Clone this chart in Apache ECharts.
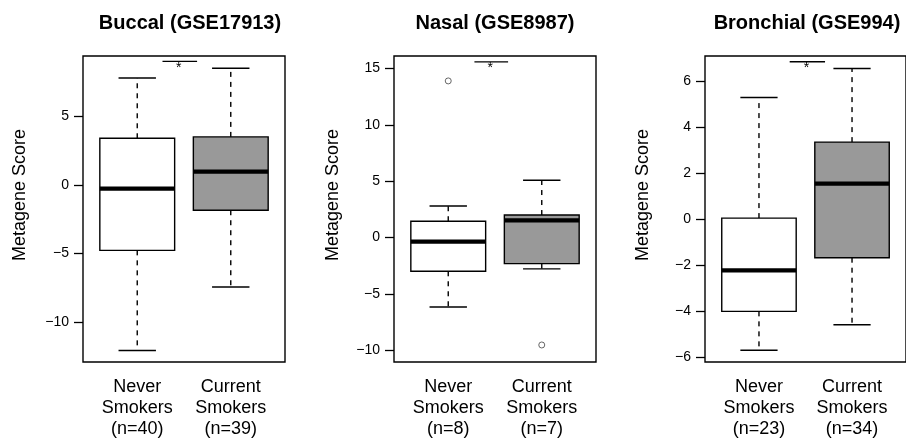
<!DOCTYPE html>
<html>
<head>
<meta charset="utf-8">
<script src="https://cdn.jsdelivr.net/npm/echarts@6/dist/echarts.min.js"></script>
<style>
  html, body { margin: 0; padding: 0; background: #fff; }
  #chart { width: 906px; height: 442px; }
</style>
</head>
<body>
<div id="chart"></div>
<script>
// ---------------- data ----------------
const panelTitles = ['Buccal (GSE17913)', 'Nasal (GSE8987)', 'Bronchial (GSE994)'];
const yAxisTitle = 'Metagene Score';
const groupNames = ['Never\nSmokers', 'Current\nSmokers'];
const sampleSizes = [[40, 39], [8, 7], [23, 34]];
// box stats per group: [lower whisker, Q1, median, Q3, upper whisker]
const buccalStats = [[-12.05, -4.76, -0.27, 3.40, 7.79], [-7.43, -1.84, 0.97, 3.50, 8.50]];
const nasalStats = [[-6.16, -2.99, -0.36, 1.45, 2.80], [-2.78, -2.31, 1.53, 2.00, 5.08]];
const bronchialStats = [[-5.70, -4.01, -2.23, 0.04, 5.28], [-4.59, -1.68, 1.54, 3.34, 6.54]];
const buccalOutliers = [];
const nasalOutliers = [[1, 13.9], [2, -9.53]];
const bronchialOutliers = [];
// y axis ticks and limits
const yTicks = [[-10, -5, 0, 5], [-10, -5, 0, 5, 10, 15], [-6, -4, -2, 0, 2, 4, 6]];
const yLimits = [[-12.89, 9.39], [-11.04, 16.11], [-6.21, 7.08]];
// significance bars: [x start, x end, y]
const signifBars = [[1.27, 1.64, 9.0], [1.28, 1.64, 15.58], [1.33, 1.71, 6.83]];
const xLimits = [0.42, 2.58];
const xTicks = [1, 2];

// ---------------- layout / style ----------------
const allStats = [buccalStats, nasalStats, bronchialStats];
const allOutliers = [buccalOutliers, nasalOutliers, bronchialOutliers];
const gridLefts = [83, 394, 705];
const titleCenters = [190, 495, 807];
const yTitleCenters = [20.5, 333, 643];
const FONT = '"Liberation Sans", Arial, Helvetica, sans-serif';
const fills = ['#ffffff', '#999999'];

function minusFmt(v) { return v < 0 ? '\u2212' + Math.abs(v) : String(v); }

function renderBox(params, api) {
  const x = api.value(0);
  const lo = api.value(1), q1 = api.value(2), med = api.value(3), q3 = api.value(4), hi = api.value(5);
  const hw = 0.4, cw = 0.2;
  const c = (a, b) => api.coord([a, b]);
  const pLoL = c(x - cw, lo), pLoR = c(x + cw, lo);
  const pHiL = c(x - cw, hi), pHiR = c(x + cw, hi);
  const pQ1 = c(x, q1), pQ3 = c(x, q3), pLo = c(x, lo), pHi = c(x, hi);
  const bl = c(x - hw, q3), br = c(x + hw, q1);
  const pMedL = c(x - hw, med), pMedR = c(x + hw, med);
  const lineStyle = { stroke: '#000', lineWidth: 1.4, fill: null };
  const dashStyle = { stroke: '#000', lineWidth: 1.4, lineDash: [5, 5], fill: null };
  return {
    type: 'group',
    children: [
      { type: 'line', shape: { x1: pHi[0], y1: pQ3[1], x2: pHi[0], y2: pHi[1] }, style: dashStyle },
      { type: 'line', shape: { x1: pLo[0], y1: pQ1[1], x2: pLo[0], y2: pLo[1] }, style: dashStyle },
      { type: 'line', shape: { x1: pHiL[0], y1: pHiL[1], x2: pHiR[0], y2: pHiR[1] }, style: lineStyle },
      { type: 'line', shape: { x1: pLoL[0], y1: pLoL[1], x2: pLoR[0], y2: pLoR[1] }, style: lineStyle },
      { type: 'rect', shape: { x: bl[0], y: bl[1], width: br[0] - bl[0], height: br[1] - bl[1] },
        style: { fill: fills[params.dataIndex], stroke: '#000', lineWidth: 1.4 } },
      { type: 'line', shape: { x1: pMedL[0], y1: pMedL[1], x2: pMedR[0], y2: pMedR[1] },
        style: { stroke: '#000', lineWidth: 4.2 } }
    ]
  };
}

function renderSignif(params, api) {
  const x1 = api.value(0), x2 = api.value(1), y = api.value(2);
  const a = api.coord([x1, y]), b = api.coord([x2, y]);
  return {
    type: 'group',
    children: [
      { type: 'line', shape: { x1: a[0], y1: a[1], x2: b[0], y2: b[1] }, style: { stroke: '#000', lineWidth: 1.3 } },
      { type: 'text', x: (a[0] + b[0]) / 2 - 1, y: a[1] - 0.5,
        style: { text: '*', font: '14px ' + FONT, fill: '#000', align: 'center', verticalAlign: 'top',
                 textAlign: 'center', textVerticalAlign: 'top' } }
    ]
  };
}

const grids = [], xAxes = [], yAxes = [], series = [], graphics = [];
for (let i = 0; i < 3; i++) {
  grids.push({ left: gridLefts[i], top: 56, width: 202, height: 306, show: true,
               borderColor: '#000', borderWidth: 1.4, backgroundColor: 'transparent' });
  xAxes.push({
    type: 'value', gridIndex: i, min: xLimits[0], max: xLimits[1],
    axisLine: { show: false },
    splitLine: { show: false },
    axisTick: { show: true, inside: false, length: 9, customValues: xTicks, lineStyle: { color: '#000', width: 1.3 } },
    axisLabel: {
      show: true, customValues: xTicks, margin: 15, color: '#000', fontFamily: FONT, fontSize: 18, lineHeight: 21,
      formatter: v => groupNames[Math.round(v) - 1] + '\n(n=' + sampleSizes[i][Math.round(v) - 1] + ')'
    }
  });
  yAxes.push({
    type: 'value', gridIndex: i, min: yLimits[i][0], max: yLimits[i][1],
    axisLine: { show: false },
    splitLine: { show: false },
    axisTick: { show: true, inside: false, length: 9, customValues: yTicks[i], lineStyle: { color: '#000', width: 1.3 } },
    axisLabel: { show: true, customValues: yTicks[i], margin: 14, color: '#000', fontFamily: FONT, fontSize: 14,
                 formatter: minusFmt }
  });
  series.push({
    type: 'custom', xAxisIndex: i, yAxisIndex: i, renderItem: renderBox, clip: false,
    encode: { x: 0, y: [1, 2, 3, 4, 5] },
    data: allStats[i].map((s, k) => [xTicks[k]].concat(s))
  });
  series.push({
    type: 'custom', xAxisIndex: i, yAxisIndex: i, renderItem: renderSignif, clip: false,
    encode: { x: [0, 1], y: 2 },
    data: [signifBars[i]]
  });
  if (allOutliers[i].length) {
    series.push({
      type: 'scatter', xAxisIndex: i, yAxisIndex: i, symbol: 'circle', symbolSize: 6,
      itemStyle: { color: '#fff', borderColor: '#444', borderWidth: 1 },
      data: allOutliers[i]
    });
  }
  graphics.push({
    type: 'text', x: titleCenters[i], y: 23,
    style: { text: panelTitles[i], font: 'bold 20px ' + FONT, fill: '#000',
             align: 'center', verticalAlign: 'middle', textAlign: 'center', textVerticalAlign: 'middle' }
  });
  graphics.push({
    type: 'text', x: yTitleCenters[i], y: 195, rotation: Math.PI / 2,
    style: { text: yAxisTitle, font: '18px ' + FONT, fill: '#000',
             align: 'center', verticalAlign: 'middle', textAlign: 'center', textVerticalAlign: 'middle' }
  });
}

const chart = echarts.init(document.getElementById('chart'), null, { renderer: 'canvas' });
chart.setOption({
  animation: false,
  backgroundColor: '#fff',
  grid: grids,
  xAxis: xAxes,
  yAxis: yAxes,
  series: series,
  graphic: graphics
});
</script>
</body>
</html>
